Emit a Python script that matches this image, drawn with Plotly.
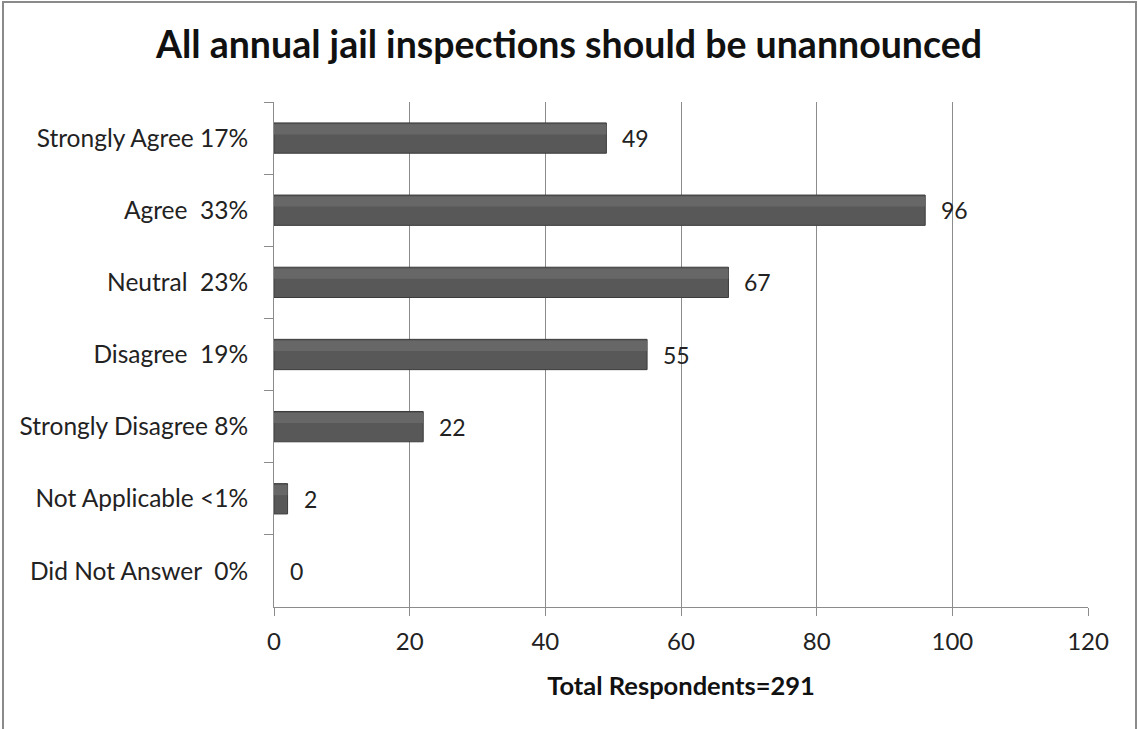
import plotly.graph_objects as go

categories = ["Strongly Agree 17%", "Agree  33%", "Neutral  23%", "Disagree  19%",
              "Strongly Disagree 8%", "Not Applicable <1%", "Did Not Answer  0%"]
values = [49, 96, 67, 55, 22, 2, 0]
x_ticks = [0, 20, 40, 60, 80, 100, 120]
title_text = "All annual jail inspections should be unannounced"
x_title = "Total Respondents=291"

W, H = 1138, 729
L, R, T, B = 274, 50, 102, 122
pw, ph = W - L - R, H - T - B

FONT = "Lato, 'Open Sans', sans-serif"

outline_w = [1 if v > 0 else 0 for v in values]

fig = go.Figure()
# main bar body
fig.add_trace(go.Bar(
    x=values, y=categories, orientation="h",
    marker=dict(color="#585858", line=dict(color="#3c3c3c", width=outline_w)),
    width=0.42, offset=-0.21, hoverinfo="x+y",
))
# lighter upper sheen (same values, thinner band)
fig.add_trace(go.Bar(
    x=values, y=categories, orientation="h",
    marker=dict(color="#676767", line=dict(width=0)),
    width=0.14, offset=-0.19, hoverinfo="skip",
))

for c, v in zip(categories, values):
    fig.add_annotation(x=v, y=c, text=str(v), showarrow=False, xanchor="left",
                       xshift=14, font=dict(size=23, color="#222", family=FONT))

# outer chart border
fig.add_shape(type="rect", xref="paper", yref="paper",
              x0=(3 - L) / pw, x1=(1136 - L) / pw,
              y0=-(H + 10 - (H - B)) / ph, y1=1 + (T - 2) / ph,
              line=dict(color="#8a8a8a", width=2), fillcolor="rgba(0,0,0,0)", layer="below")

fig.update_layout(
    width=W, height=H, margin=dict(l=L, r=R, t=T, b=B, pad=0),
    paper_bgcolor="white", plot_bgcolor="white", showlegend=False, barmode="overlay",
    title=dict(text="<b>" + title_text + "</b>", x=0.5, xanchor="center",
               y=1 - 45 / H, yanchor="middle", font=dict(size=37.5, color="#111", family=FONT)),
    font=dict(family=FONT, size=23, color="#222"),
    xaxis=dict(range=[0, 120], tickvals=x_ticks, showgrid=True, gridcolor="#8c8c8c", gridwidth=1,
               showline=True, linecolor="#8c8c8c", linewidth=1, ticks="outside", ticklen=8,
               tickcolor="#8c8c8c", tickfont=dict(size=24, color="#222"), zeroline=False,
               ticklabelstandoff=5,
               title=dict(text="<b>" + x_title + "</b>", font=dict(size=25.5, color="#111"), standoff=23),
               fixedrange=True),
    yaxis=dict(categoryorder="array", categoryarray=categories, autorange="reversed",
               showline=True, linecolor="#8c8c8c", linewidth=1, ticks="outside", ticklen=9,
               tickcolor="#8c8c8c", tickson="boundaries", showgrid=False,
               tickfont=dict(size=24.5, color="#222"), ticklabelstandoff=20, fixedrange=True),
)

fig.write_html("out.html", config={"displayModeBar": False, "staticPlot": True},
               post_script="document.body.style.margin='0';document.body.style.overflow='hidden';")
